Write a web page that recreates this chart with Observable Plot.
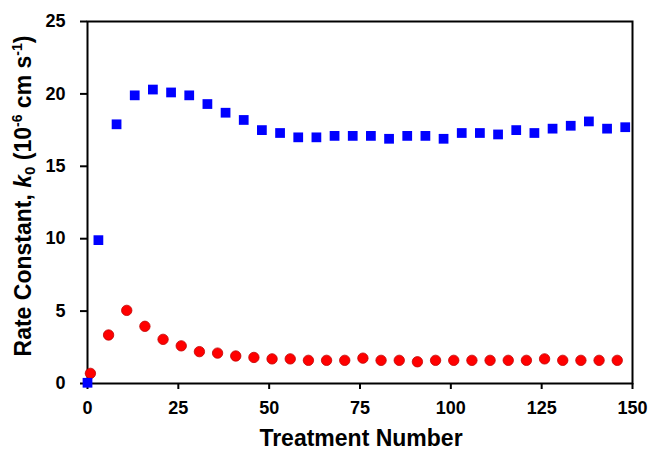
<!DOCTYPE html>
<html><head><meta charset="utf-8">
<script src="https://cdn.jsdelivr.net/npm/d3@7"></script>
<script src="https://cdn.jsdelivr.net/npm/@observablehq/plot@0.6"></script>
<style>body{margin:0;background:#fff}</style>
</head><body><div id="chart"></div>
<script>
const blueX = [0, 3, 8, 13, 18, 23, 28, 33, 38, 43, 48, 53, 58, 63, 68, 73, 78, 83, 88, 93, 98, 103, 108, 113, 118, 123, 128, 133, 138, 143, 148];
const blueY = [0.05, 9.9, 17.9, 19.9, 20.3, 20.1, 19.9, 19.3, 18.7, 18.2, 17.5, 17.3, 17.0, 17.0, 17.1, 17.1, 17.1, 16.9, 17.1, 17.1, 16.9, 17.3, 17.3, 17.2, 17.5, 17.3, 17.6, 17.8, 18.1, 17.6, 17.7];
const redX = [0.8, 5.8, 10.8, 15.8, 20.8, 25.8, 30.8, 35.8, 40.8, 45.8, 50.8, 55.8, 60.8, 65.8, 70.8, 75.8, 80.8, 85.8, 90.8, 95.8, 100.8, 105.8, 110.8, 115.8, 120.8, 125.8, 130.8, 135.8, 140.8, 145.8];
const redY = [0.7, 3.35, 5.05, 3.95, 3.05, 2.6, 2.2, 2.1, 1.9, 1.8, 1.7, 1.7, 1.6, 1.6, 1.6, 1.75, 1.6, 1.6, 1.5, 1.6, 1.6, 1.6, 1.6, 1.6, 1.6, 1.7, 1.6, 1.6, 1.6, 1.6];
const xTicks = [0, 25, 50, 75, 100, 125, 150];
const yTicks = [0, 5, 10, 15, 20, 25];
const xLabel = "Treatment Number";

const blue = blueX.map((x, i) => ({x, y: blueY[i]}));
const red = redX.map((x, i) => ({x, y: redY[i]}));

const chart = Plot.plot({
  width: 652, height: 453,
  marginLeft: 87, marginRight: 20, marginTop: 21, marginBottom: 70,
  style: {fontFamily: "'Liberation Sans', Arial, sans-serif", fontSize: "18px", fontWeight: "bold", color: "#000", background: "#fff"},
  x: {domain: [0, 150]},
  y: {domain: [0, 25]},
  marks: [
    Plot.frame({stroke: "#000", strokeWidth: 2}),
    Plot.axisX({ticks: xTicks, tickSize: 6, tickPadding: 12, strokeWidth: 2, label: null}),
    Plot.axisY({ticks: yTicks, tickSize: 7, tickPadding: 15, strokeWidth: 2, label: null}),
    Plot.dot(red, {x: "x", y: "y", r: 5.2, fill: "#ff0000", stroke: "#c00000", strokeWidth: 0.8}),
    Plot.dot(blue, {x: "x", y: "y", r: 5.5, symbol: "square", fill: "#0000ff"})
  ]
});
document.getElementById("chart").appendChild(chart);

const svg = d3.select(chart);
svg.append("text")
  .attr("x", 361).attr("y", 446)
  .attr("text-anchor", "middle")
  .attr("font-size", "23px").attr("font-weight", "bold").attr("fill", "#000")
  .text(xLabel);

const t = svg.append("text")
  .attr("transform", "translate(31,196) rotate(-90)")
  .attr("text-anchor", "middle")
  .attr("font-size", "23px").attr("font-weight", "bold").attr("fill", "#000");
t.append("tspan").text("Rate Constant, ");
t.append("tspan").attr("font-style", "italic").text("k");
t.append("tspan").attr("font-size", "15px").attr("dy", "4").text("0");
t.append("tspan").attr("dy", "-4").text(" (10");
t.append("tspan").attr("font-size", "14px").attr("dy", "-9").text("-6");
t.append("tspan").attr("dy", "9").text(" cm s");
t.append("tspan").attr("font-size", "14px").attr("dy", "-9").text("-1");
t.append("tspan").attr("dy", "9").text(")");
</script>
</body></html>
